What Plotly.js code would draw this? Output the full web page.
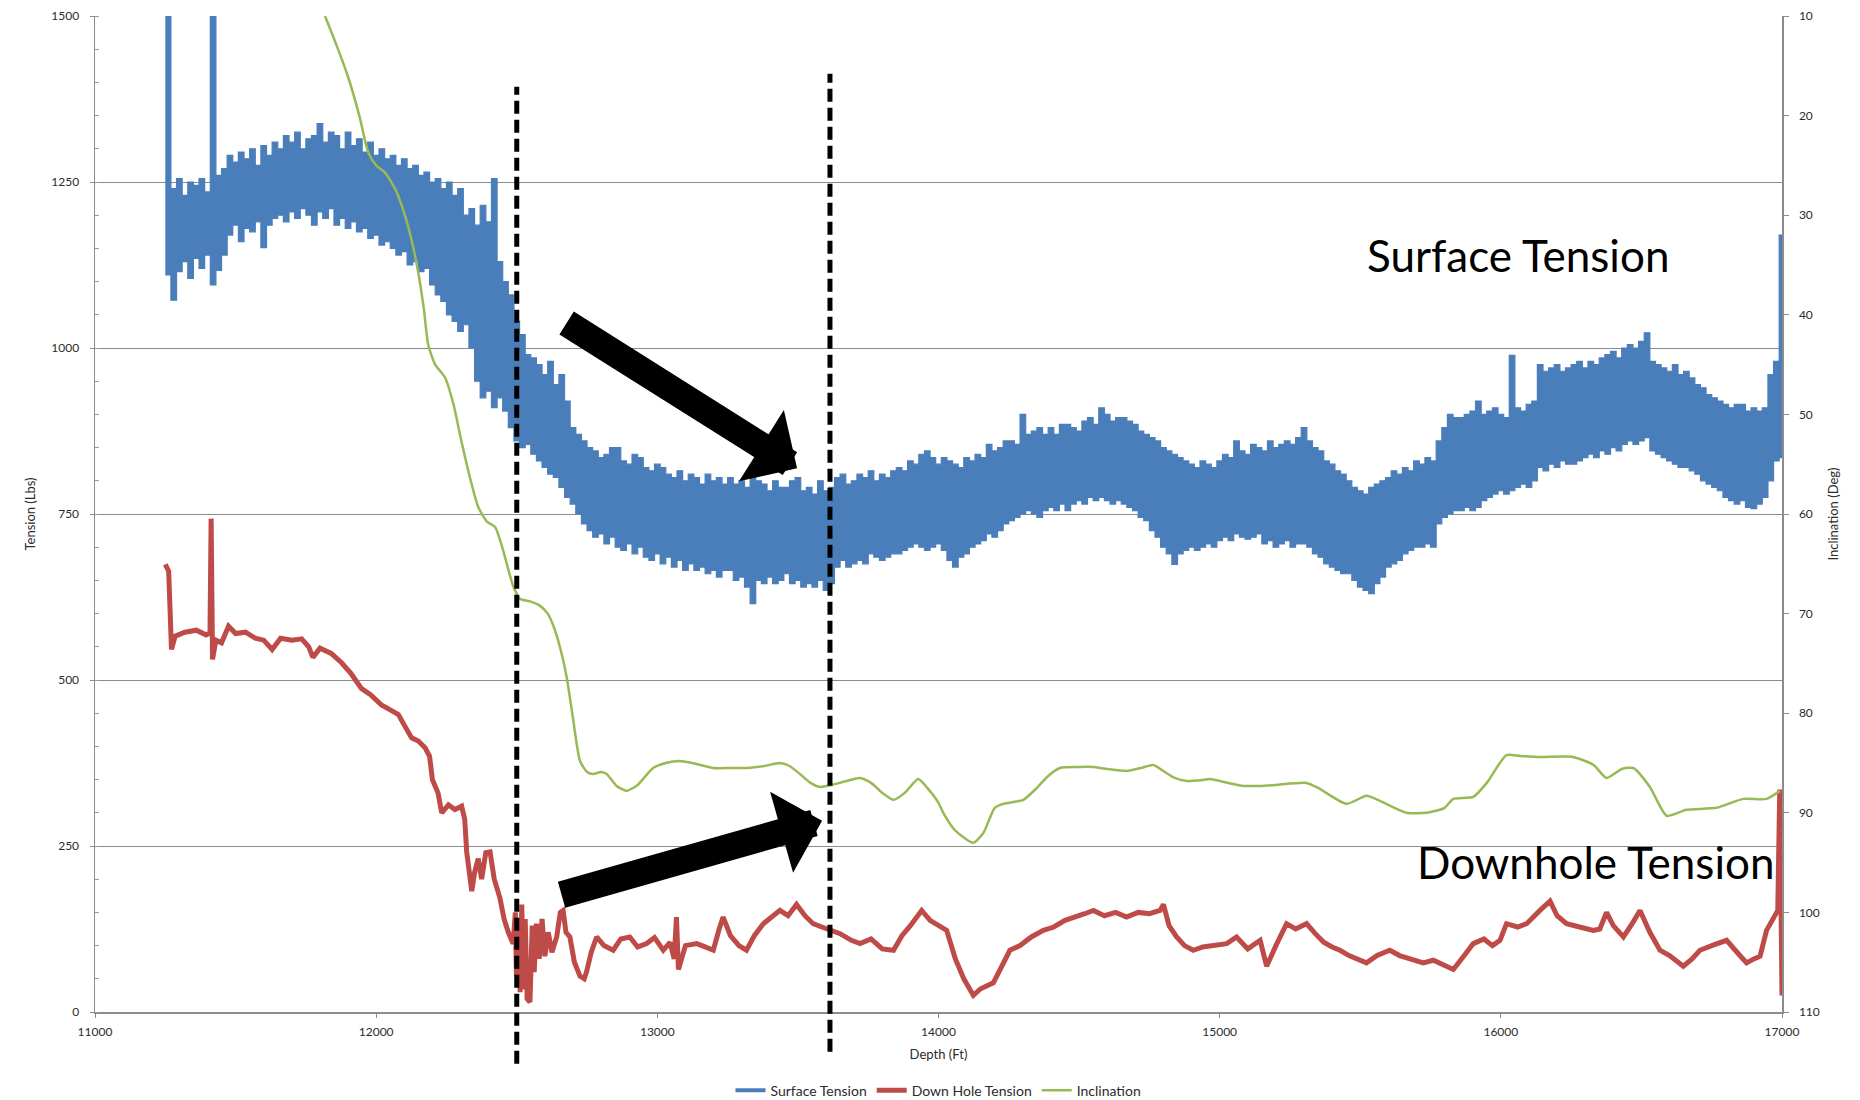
<!DOCTYPE html>
<html>
<head>
<meta charset="utf-8">
<script src="https://cdn.plot.ly/plotly-3.0.1.min.js"></script>
<style>html,body{margin:0;padding:0;background:#fff;}#chart{width:1860px;height:1100px;}</style>
</head>
<body>
<div id="chart"></div>
<script>
// ---- Surface tension (upper / lower envelope of the noisy band, every 20 ft) ----
const stDepth = [
 11250,11270,11290,11310,11330,11350,11370,11390,11410,11430,
 11450,11470,11490,11510,11530,11550,11570,11590,11610,11630,
 11650,11670,11690,11710,11730,11750,11770,11790,11810,11830,
 11850,11870,11890,11910,11930,11950,11970,11990,12010,12030,
 12050,12070,12090,12110,12130,12150,12170,12190,12210,12230,
 12250,12270,12290,12310,12330,12350,12370,12390,12410,12430,
 12450,12470,12490,12510,12530,12550,12570,12590,12610,12630,
 12650,12670,12690,12710,12730,12750,12770,12790,12810,12830,
 12850,12870,12890,12910,12930,12950,12970,12990,13010,13030,
 13050,13070,13090,13110,13130,13150,13170,13190,13210,13230,
 13250,13270,13290,13310,13330,13350,13370,13390,13410,13430,
 13450,13470,13490,13510,13530,13550,13570,13590,13610,13630,
 13650,13670,13690,13710,13730,13750,13770,13790,13810,13830,
 13850,13870,13890,13910,13930,13950,13970,13990,14010,14030,
 14050,14070,14090,14110,14130,14150,14170,14190,14210,14230,
 14250,14270,14290,14310,14330,14350,14370,14390,14410,14430,
 14450,14470,14490,14510,14530,14550,14570,14590,14610,14630,
 14650,14670,14690,14710,14730,14750,14770,14790,14810,14830,
 14850,14870,14890,14910,14930,14950,14970,14990,15010,15030,
 15050,15070,15090,15110,15130,15150,15170,15190,15210,15230,
 15250,15270,15290,15310,15330,15350,15370,15390,15410,15430,
 15450,15470,15490,15510,15530,15550,15570,15590,15610,15630,
 15650,15670,15690,15710,15730,15750,15770,15790,15810,15830,
 15850,15870,15890,15910,15930,15950,15970,15990,16010,16030,
 16050,16070,16090,16110,16130,16150,16170,16190,16210,16230,
 16250,16270,16290,16310,16330,16350,16370,16390,16410,16430,
 16450,16470,16490,16510,16530,16550,16570,16590,16610,16630,
 16650,16670,16690,16710,16730,16750,16770,16790,16810,16830,
 16850,16870,16890,16910,16930,16950,16970,16990,17000];
const stHigh = [
 1600,1240,1255,1230,1250,1245,1255,1235,1600,1260,
 1270,1290,1280,1295,1285,1300,1275,1305,1290,1310,
 1300,1320,1310,1325,1300,1315,1320,1338,1310,1325,
 1320,1300,1325,1305,1315,1295,1310,1290,1300,1285,
 1290,1275,1285,1270,1275,1260,1265,1250,1255,1240,
 1250,1230,1240,1200,1210,1185,1215,1190,1255,1130,
 1100,1080,1040,1020,990,985,975,960,980,945,
 960,920,880,870,860,850,845,835,840,850,
 850,830,825,840,835,820,815,825,820,810,
 805,815,800,810,805,795,810,800,805,795,
 805,795,800,790,810,800,795,785,800,790,
 790,800,805,785,790,780,800,785,790,805,
 810,795,800,810,805,815,800,810,805,815,
 820,815,830,825,840,845,835,825,835,830,
 825,820,835,830,840,835,855,845,850,860,
 860,855,900,870,875,880,870,880,870,885,
 885,880,875,890,895,885,910,900,890,895,
 895,890,885,875,870,865,860,850,845,840,
 835,830,825,820,830,825,820,830,840,835,
 860,845,840,855,850,845,860,850,855,860,
 855,865,880,860,850,845,830,825,815,810,
 800,790,785,780,790,795,800,805,815,810,
 820,815,830,825,835,830,860,880,900,895,
 895,900,905,920,900,905,910,900,895,989,
 910,905,915,920,975,965,970,975,965,970,
 975,980,970,980,975,985,990,995,985,1000,
 1005,1000,1010,1023,980,975,970,965,975,960,
 965,955,945,940,930,925,920,915,910,915,
 915,905,910,905,910,960,980,1170,1170];
const stLow = [
 1110,1072,1115,1130,1105,1135,1120,1140,1095,1117,
 1140,1170,1185,1160,1180,1175,1190,1151,1185,1195,
 1200,1190,1205,1195,1210,1200,1185,1205,1195,1210,
 1185,1195,1180,1190,1175,1180,1165,1170,1155,1160,
 1150,1140,1145,1125,1130,1115,1120,1095,1080,1070,
 1050,1040,1025,1035,1000,950,925,935,910,925,
 905,880,860,850,855,840,830,820,810,805,
 790,775,765,750,735,725,715,720,705,715,
 700,695,705,690,700,685,680,690,675,685,
 670,680,665,675,665,670,660,665,655,665,
 665,650,655,640,615,650,645,655,645,650,
 660,645,650,640,645,640,650,635,645,670,
 680,670,675,680,675,690,685,680,685,690,
 690,695,700,705,700,695,700,705,695,680,
 670,685,690,700,705,710,720,715,725,735,
 740,745,750,755,750,745,755,760,755,765,
 755,765,770,765,775,770,775,770,765,770,
 765,760,755,745,740,725,715,700,690,674,
 690,695,700,695,700,705,700,710,715,710,
 720,715,712,715,720,705,710,700,705,710,
 700,705,705,700,690,685,675,670,665,660,
 660,650,640,635,630,645,655,670,675,680,
 690,695,700,700,705,700,735,745,750,755,
 755,760,755,760,770,775,780,785,780,785,
 790,795,790,800,820,815,825,820,830,825,
 825,830,835,840,835,845,840,850,845,855,
 860,855,860,865,845,840,835,830,825,820,
 820,815,810,800,795,790,785,775,770,765,
 770,760,758,765,775,800,830,835,840];

// ---- Down hole tension ----
const dhDepth = [
 11250,11262,11272,11285,11320,11360,11395,11409,11413,11418,
 11430,11450,11475,11500,11535,11570,11600,11630,11660,11700,
 11735,11760,11775,11800,11840,11877,11910,11948,11980,12020,
 12050,12079,12100,12126,12150,12174,12190,12200,12220,12233,
 12257,12280,12304,12315,12322,12340,12350,12363,12375,12390,
 12405,12420,12440,12455,12470,12487,12495,12499,12505,12512,
 12518,12523,12530,12537,12547,12555,12562,12570,12580,12590,
 12600,12612,12625,12642,12655,12665,12675,12689,12705,12725,
 12740,12748,12765,12784,12810,12843,12870,12902,12930,12962,
 12990,13021,13045,13060,13068,13075,13100,13140,13170,13199,
 13220,13234,13260,13290,13317,13345,13377,13400,13436,13465,
 13495,13525,13554,13585,13614,13650,13690,13721,13760,13800,
 13840,13870,13900,13940,13970,14000,14029,14060,14090,14124,
 14150,14195,14225,14254,14290,14330,14373,14410,14450,14492,
 14520,14551,14590,14630,14669,14710,14750,14788,14800,14820,
 14847,14875,14906,14940,14980,15025,15060,15100,15144,15167,
 15200,15238,15270,15309,15340,15370,15400,15428,15460,15490,
 15522,15560,15605,15640,15680,15724,15760,15800,15831,15870,
 15902,15940,15970,15997,16020,16060,16092,16139,16175,16200,
 16234,16280,16329,16352,16376,16400,16436,16470,16495,16530,
 16566,16600,16649,16680,16708,16750,16803,16840,16874,16900,
 16922,16945,16970,16985,16992,16996,17000];
const dhTension = [
 674,664,546,566,572,575,568,571,743,531,
 560,556,581,570,572,563,560,546,563,560,
 562,550,534,548,540,526,510,487,478,462,
 455,448,432,413,408,398,385,350,330,300,
 312,305,310,290,241,182,210,231,200,240,
 241,200,172,140,120,103,150,54,140,30,
 162,34,140,20,15,130,60,133,80,140,
 84,120,90,113,150,153,120,113,75,54,
 50,60,90,113,100,93,110,113,98,103,
 112,93,105,80,143,64,100,103,98,93,
 125,143,115,100,93,115,133,140,153,145,
 162,145,133,128,123,118,108,103,110,95,
 93,115,130,153,138,130,123,80,50,25,
 35,44,70,93,100,113,123,128,138,143,
 148,153,145,150,143,150,148,153,162,130,
 113,100,93,98,100,103,113,95,108,69,
 100,133,125,133,118,105,98,93,85,80,
 74,85,93,85,80,74,78,70,64,85,
 103,110,100,108,133,128,133,153,167,145,
 133,128,123,125,150,130,113,135,153,120,
 93,85,69,80,93,100,108,90,74,80,
 84,123,140,153,335,120,25];

// ---- Inclination ----
const incDepth = [
 11818,11860,11901,11940,11972,12000,12031,12070,12102,12130,
 12150,12170,12185,12210,12245,12275,12304,12335,12363,12395,
 12423,12450,12487,12511,12550,12582,12610,12630,12655,12677,
 12700,12725,12750,12772,12800,12820,12855,12891,12930,12985,
 13030,13080,13140,13199,13260,13317,13380,13436,13470,13507,
 13545,13578,13620,13673,13721,13760,13800,13840,13880,13928,
 13960,14000,14017,14060,14124,14160,14200,14230,14270,14302,
 14350,14390,14432,14500,14550,14600,14669,14720,14764,14800,
 14840,14883,14940,14966,15030,15084,15144,15200,15309,15350,
 15451,15522,15570,15665,15736,15800,15831,15902,15950,16020,
 16070,16139,16257,16330,16376,16430,16471,16530,16590,16660,
 16767,16862,16945,16993];
const incDeg = [
 10.0,13.0,16.2,20.0,23.7,25.0,25.7,27.5,30.0,33.0,
 35.8,39.5,43.0,45.0,46.3,49.0,52.8,56.5,59.3,60.8,
 61.3,63.5,67.2,68.5,68.8,69.2,70.0,71.2,73.5,76.3,
 80.5,84.8,85.9,86.1,85.9,86.1,87.3,87.8,87.2,85.5,
 85.0,84.8,85.1,85.5,85.5,85.5,85.3,85.0,85.3,86.1,
 87.0,87.4,87.2,86.8,86.5,87.0,88.0,88.7,88.0,86.6,
 87.5,89.0,90.0,91.8,93.0,92.0,89.5,89.1,88.9,88.7,
 87.5,86.3,85.5,85.4,85.4,85.6,85.8,85.5,85.2,85.8,
 86.5,86.8,86.7,86.6,87.0,87.3,87.3,87.2,87.0,87.5,
 89.1,88.3,88.8,90.0,90.0,89.5,88.6,88.4,87.0,84.2,
 84.3,84.4,84.4,85.2,86.5,85.6,85.5,87.4,90.3,89.7,
 89.5,88.6,88.6,87.8];

// ---- Annotation anchors (depth / tension) ----
const markerDepths = [12500, 13614];
const arrowDown = {tail:[12672, 1039], tip:[13497, 819]};
const arrowUp   = {tail:[12654, 176],  tip:[13586, 288]};

const BLUE = '#4A7EBB', RED = '#BE4B48', GREEN = '#98B954';
const FONT = 'Lato, "DejaVu Sans", sans-serif';
const tickFont = {family:FONT, size:12, color:'#2b2b2b'};
const titleFont = {family:FONT, size:13, color:'#2b2b2b'};

const traces = [
  {x:[null], y:[null], type:'scatter', mode:'lines', name:'Surface Tension', line:{color:BLUE, width:4}},
  {x: dhDepth, y: dhTension, type:'scatter', mode:'lines', name:'Down Hole Tension', line:{color:RED, width:5}},
  {x: incDepth, y: incDeg, type:'scatter', mode:'lines', name:'Inclination', yaxis:'y2', line:{color:GREEN, width:2.5, shape:'spline', smoothing:0.6}},
  {x: stDepth, y: stLow, type:'scatter', mode:'lines', line:{color:BLUE, width:1.2, shape:'hv'}, showlegend:false, hoverinfo:'skip'},
  {x: stDepth, y: stHigh, type:'scatter', mode:'lines', line:{color:BLUE, width:1.2, shape:'hv'}, fill:'tonexty', fillcolor:BLUE, showlegend:false, hoverinfo:'skip'}
];

const shapes = [
  {type:'line', xref:'x', yref:'paper', x0:markerDepths[0], x1:markerDepths[0], y0:-0.052, y1:0.929, line:{color:'#000', width:5, dash:'13px,6px'}},
  {type:'line', xref:'x', yref:'paper', x0:markerDepths[1], x1:markerDepths[1], y0:-0.040, y1:0.942, line:{color:'#000', width:5, dash:'13px,6px'}}
];

function arrow(a){
  return {x:a.tip[0], y:a.tip[1], ax:a.tail[0], ay:a.tail[1], xref:'x', yref:'y', axref:'x', ayref:'y',
          text:'', showarrow:true, arrowhead:1, arrowsize:0.52, arrowwidth:27, arrowcolor:'#000', standoff:0, startstandoff:0};
}

const annotations = [
  arrow(arrowDown), arrow(arrowUp),
  {x:16061, y:1140, xref:'x', yref:'y', text:'Surface Tension', showarrow:false, font:{family:'Lato, "Open Sans", sans-serif', size:44, color:'#000'}},
  {x:16335, y:226, xref:'x', yref:'y', text:'Downhole Tension', showarrow:false, font:{family:'Lato, "Open Sans", sans-serif', size:44, color:'#000'}}
];

const layout = {
  width:1860, height:1100,
  margin:{l:95, r:78, t:16, b:88, autoexpand:false},
  paper_bgcolor:'#fff', plot_bgcolor:'#fff',
  showlegend:true,
  legend:{orientation:'h', traceorder:'normal', x:0.5, xanchor:'center', y:-0.079, yanchor:'middle', font:{family:FONT, size:14, color:'#2b2b2b'}, itemwidth:30},
  xaxis:{range:[11000,17000], dtick:1000, tick0:11000, tickformat:'d', showgrid:false, zeroline:false, showline:true, linecolor:'#8c8c8c', linewidth:2,
         ticks:'outside', ticklen:4, tickcolor:'#8c8c8c', tickfont:tickFont, ticklabelstandoff:4,
         title:{text:'Depth (Ft)', font:titleFont, standoff:11}, automargin:false},
  yaxis:{range:[0,1500], dtick:250, tick0:0, showgrid:true, gridcolor:'#8c8c8c', gridwidth:1, zeroline:false, showline:true, linecolor:'#8c8c8c', linewidth:1.5,
         ticks:'outside', ticklen:4, tickcolor:'#8c8c8c', tickfont:tickFont, ticklabelstandoff:8,
         minor:{dtick:50, ticks:'inside', ticklen:4, tickcolor:'#9a9a9a', showgrid:false},
         title:{text:'Tension (Lbs)', font:titleFont, standoff:12}, automargin:false},
  yaxis2:{overlaying:'y', side:'right', range:[110,10], dtick:10, tick0:10, showgrid:false, zeroline:false, showline:true, linecolor:'#8c8c8c', linewidth:1.5,
          ticks:'outside', ticklen:5, tickcolor:'#8c8c8c', tickfont:tickFont, ticklabelstandoff:8,
          title:{text:'Inclination (Deg)', font:titleFont, standoff:10}, automargin:false},
  shapes:shapes,
  annotations:annotations
};

Plotly.newPlot('chart', traces, layout, {staticPlot:true, displayModeBar:false});
</script>
</body>
</html>
